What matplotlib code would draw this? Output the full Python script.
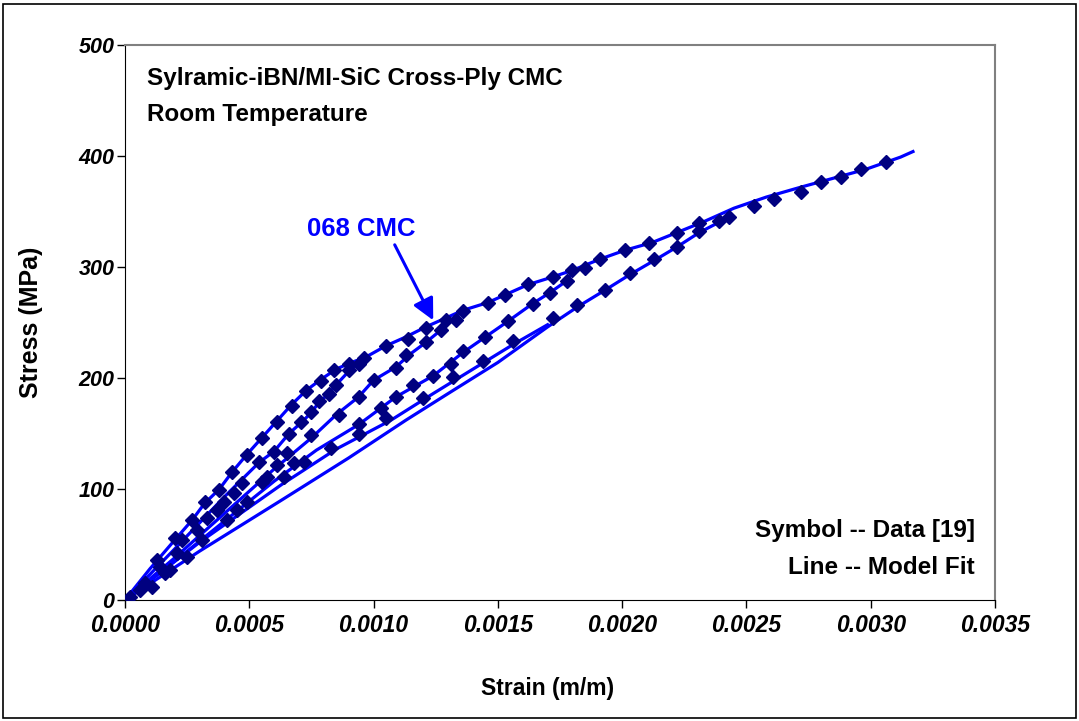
import matplotlib
matplotlib.use("Agg")
import matplotlib.pyplot as plt
import numpy as np

plt.rcParams['font.family'] = ['Liberation Sans', 'DejaVu Sans']

# model fit lines (strain m/m, stress MPa)
env_strain = [0, 0.0001, 0.0002, 0.00027, 0.00032, 0.00038, 0.00043, 0.00049, 0.00055, 0.00061, 0.00067,
              0.00073, 0.00079, 0.00085, 0.0009, 0.00097, 0.00105, 0.00113, 0.00121, 0.00128, 0.00136,
              0.00146, 0.00153, 0.00162, 0.00172, 0.0018, 0.00191, 0.00201, 0.00212, 0.00222, 0.00233,
              0.00245, 0.00258, 0.00272, 0.00285, 0.00298, 0.00312, 0.00317]
env_stress = [0, 28, 54, 72, 87, 100, 115, 131, 146, 161, 176,
              189, 199, 208, 213, 219, 229, 237, 246, 253, 261,
              268, 275, 284, 291, 297, 307, 315, 322, 331, 341,
              353, 363, 372, 380, 388, 399, 404]

b_strain = [0, 0.0002, 0.0004, 0.00054, 0.0006, 0.00066, 0.00071, 0.00075, 0.00078, 0.00082, 0.00085, 0.0009, 0.00097]
b_stress = [0, 46, 93, 124, 134, 150, 160, 169, 178, 186, 194, 206, 218]

c_strain = [0, 0.0002, 0.0004, 0.0006, 0.00075, 0.00085, 0.00094, 0.001, 0.00109, 0.00115, 0.00121, 0.00127, 0.00136]
c_stress = [0, 38, 78, 118, 146, 167, 183, 198, 210, 222, 232, 243, 261]

d_strain = [0, 0.0002, 0.0004, 0.0006, 0.00077, 0.00094, 0.00109, 0.00124, 0.00136, 0.00145, 0.00154, 0.00164,
            0.00171, 0.00178, 0.0018]
d_stress = [0, 35, 71, 107, 135, 158, 183, 202, 223, 237, 251, 267, 277, 288, 297]

g_strain = [0, 0.0003, 0.00063, 0.00085, 0.00107, 0.00124, 0.0014, 0.00156, 0.0017]
g_stress = [0, 52, 104, 136, 162, 186, 208, 230, 248]

f_strain = [0, 0.0003, 0.00063, 0.0009, 0.00113, 0.0013, 0.0015, 0.0017, 0.00182, 0.00193, 0.00203, 0.00213,
            0.00222, 0.00231, 0.00243]
f_stress = [0, 44, 90, 128, 162, 186, 214, 246, 264, 279, 293, 306, 318, 331, 345]

# test data (symbols)
data_strain = [0.00002, 0.00006, 0.00008, 0.00011, 0.00013, 0.00014, 0.00016, 0.00018, 0.0002, 0.00021,
               0.00023, 0.00025, 0.00027, 0.00029, 0.00031, 0.00032, 0.00033, 0.00037, 0.00038, 0.0004,
               0.00041, 0.00043, 0.00044, 0.00045, 0.00047, 0.00049, 0.00049, 0.00055, 0.00055, 0.00057,
               0.00061, 0.00061, 0.00064, 0.00065, 0.00067, 0.00068, 0.00073, 0.00079, 0.00084, 0.0009,
               0.00096, 0.00105, 0.00114, 0.00121, 0.00129, 0.00136, 0.00146, 0.00153, 0.00162, 0.00172,
               0.0018, 0.00185, 0.00191, 0.00201, 0.00211, 0.00222, 0.00231, 0.00239, 0.00243, 0.00253,
               0.00261, 0.00272, 0.0028, 0.00288, 0.00296, 0.00306,
               0.00054, 0.0006, 0.00066, 0.00071, 0.00075, 0.00078, 0.00082, 0.00085, 0.0009, 0.00094,
               0.00075, 0.00086, 0.00094, 0.001, 0.00109, 0.00113, 0.00121, 0.00127, 0.00133,
               0.00072, 0.00083, 0.00094, 0.00094, 0.00103, 0.00109, 0.00116, 0.00124, 0.00131, 0.00136,
               0.00145, 0.00154, 0.00164, 0.00171, 0.00178,
               0.00105, 0.0012, 0.00132, 0.00144, 0.00156, 0.00172, 0.00182, 0.00193, 0.00203, 0.00213,
               0.00222, 0.00231]
data_stress = [3, 9, 15, 12, 36, 30, 24, 27, 56, 42,
               54, 39, 72, 63, 54, 88, 74, 81, 99, 88,
               72, 115, 96, 81, 105, 131, 88, 146, 106, 111,
               160, 122, 111, 132, 175, 123, 188, 197, 207, 213,
               218, 229, 235, 245, 252, 260, 268, 275, 285, 291,
               297, 299, 307, 315, 322, 331, 340, 341, 345, 355,
               361, 368, 377, 381, 388, 395,
               124, 133, 150, 160, 169, 179, 186, 194, 207, 213,
               149, 167, 183, 198, 209, 221, 232, 243, 252,
               124, 137, 150, 159, 173, 183, 194, 202, 213, 224,
               237, 251, 267, 277, 287,
               164, 182, 201, 215, 233, 254, 266, 279, 295, 307,
               318, 332]

yticks = [0, 100, 200, 300, 400, 500]
xticks = [0.0, 0.0005, 0.0010, 0.0015, 0.0020, 0.0025, 0.0030, 0.0035]

fig = plt.figure(figsize=(10.79, 7.21), dpi=100)
ax = fig.add_axes([125/1079, 1-600/721, 870/1079, 555/721])

line_kw = dict(color='#0000FF', linewidth=2.3, zorder=2)
for xs, ys in [(env_strain, env_stress), (b_strain, b_stress), (c_strain, c_stress),
               (d_strain, d_stress), (g_strain, g_stress), (f_strain, f_stress)]:
    ax.plot(xs, ys, **line_kw)

ax.plot(data_strain, data_stress, linestyle='none', marker='D', markersize=7.2,
        color='#000080', markeredgecolor='#000080', zorder=3)

ax.set_xlim(0, 0.0035)
ax.set_ylim(0, 500)
ax.set_xticks(xticks)
ax.set_xticklabels(['%.4f' % v for v in xticks])
ax.set_yticks(yticks)
ax.set_yticklabels([str(v) for v in yticks])
for lab in ax.get_xticklabels():
    lab.set_fontsize(16.5)
    lab.set_fontweight('bold')
    lab.set_fontstyle('italic')
for lab in ax.get_yticklabels():
    lab.set_fontsize(15.5)
    lab.set_fontweight('bold')
    lab.set_fontstyle('italic')
ax.tick_params(axis='both', direction='out', length=6, width=1)
ax.tick_params(axis='x', pad=4)
ax.tick_params(axis='y', pad=1.5)

ax.spines['top'].set_color('#808080')
ax.spines['right'].set_color('#808080')
ax.spines['top'].set_linewidth(1.5)
ax.spines['right'].set_linewidth(1.5)

fig.text(548/1079, 1-688/721, 'Strain (m/m)', fontsize=16.5, fontweight='bold', ha='center', va='center')
fig.text(31/1079, 1-322/721, 'Stress (MPa)', fontsize=18, fontweight='bold', ha='center', va='center',
         rotation=90)

ax.text(0.0253, 0.9405, 'Sylramic-iBN/MI-SiC Cross-Ply CMC', transform=ax.transAxes,
        fontsize=17.5, fontweight='bold', va='center', ha='left')
ax.text(0.0253, 0.874, 'Room Temperature', transform=ax.transAxes,
        fontsize=17.5, fontweight='bold', va='center', ha='left')

ax.text(0.977, 0.126, 'Symbol -- Data [19]', transform=ax.transAxes,
        fontsize=17.5, fontweight='bold', va='center', ha='right')
ax.text(0.977, 0.058, 'Line -- Model Fit', transform=ax.transAxes,
        fontsize=17.5, fontweight='bold', va='center', ha='right')

ax.text(0.00095, 334, '068 CMC', fontsize=18.5, fontweight='bold', color='#0000FF',
        ha='center', va='center')
ax.annotate('', xy=(0.00124, 252), xytext=(0.001085, 320),
            arrowprops=dict(arrowstyle='-|>,head_length=1.3,head_width=0.65', color='#0000FF',
                            linewidth=2.2, shrinkA=0, shrinkB=0))

# outer border of the chart
fig.patches.append(plt.Rectangle((0.003, 0.004), 0.994, 0.991, transform=fig.transFigure,
                                 fill=False, edgecolor='black', linewidth=1.2))

fig.savefig('out.png', dpi=100)
